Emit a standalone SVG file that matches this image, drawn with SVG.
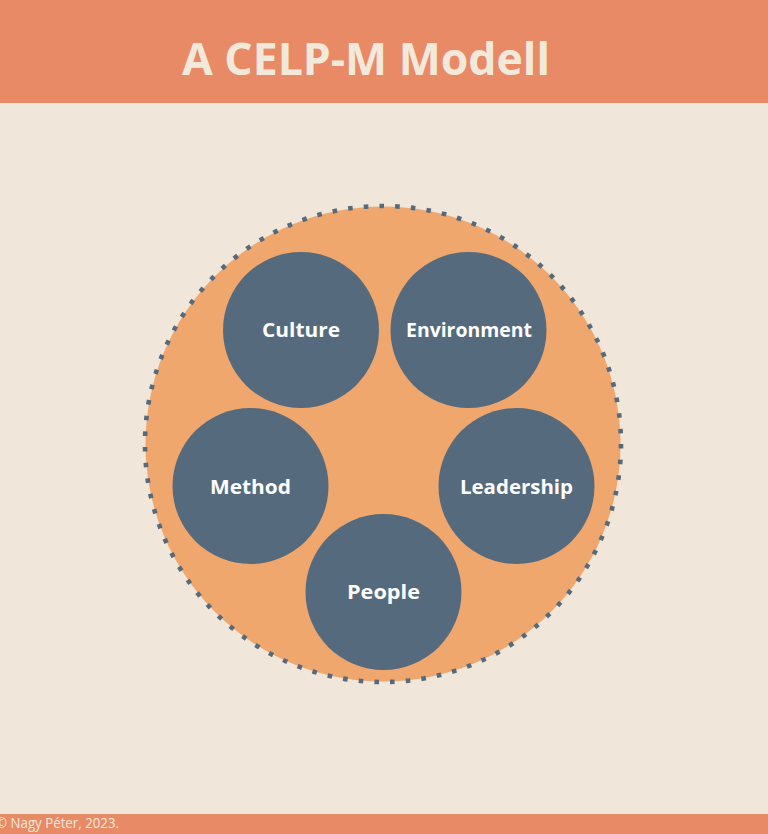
<svg xmlns="http://www.w3.org/2000/svg" width="768" height="834" viewBox="0 0 768 834">
<style>
.band{fill:#E98A67}
.node circle{fill:#566A7D}
.node text{font-family:"Open Sans","Liberation Sans",sans-serif;font-weight:700;font-size:19.5px;fill:#FFFFFF;text-anchor:middle}
.title{font-family:"Open Sans","Liberation Sans",sans-serif;font-weight:700;font-size:45px;fill:#F3E9DB}
.foot{font-family:"Open Sans","Liberation Sans",sans-serif;font-size:14px;fill:#F3E9DB}
</style>
<rect x="0" y="0" width="768" height="834" fill="#F0E6D9"/>
<rect class="band" x="0" y="0" width="768" height="103"/>
<text class="title" x="182" y="75" textLength="368" lengthAdjust="spacingAndGlyphs">A CELP-M Modell</text>
<rect class="band" x="0" y="814" width="768" height="20"/>
<text class="foot" x="-4" y="828" textLength="123" lengthAdjust="spacingAndGlyphs">© Nagy Péter, 2023.</text>
<g id="outer">
<circle cx="383" cy="444" r="237.5" fill="#EFA76E"/>
<circle cx="383" cy="444" r="238" fill="none" stroke="#566A7D" stroke-width="4.6" stroke-dasharray="4.6 11.14"/>
</g>
<g id="culture" class="node"><circle cx="301" cy="330" r="78"/><text x="301" y="337.3" textLength="78" lengthAdjust="spacingAndGlyphs">Culture</text></g>
<g id="environment" class="node"><circle cx="468.5" cy="330" r="78"/><text x="469" y="337.3" textLength="126" lengthAdjust="spacingAndGlyphs">Environment</text></g>
<g id="method" class="node"><circle cx="250.5" cy="486" r="78"/><text x="250.5" y="493.5" textLength="81" lengthAdjust="spacingAndGlyphs">Method</text></g>
<g id="leadership" class="node"><circle cx="516.5" cy="486" r="78"/><text x="516.5" y="493.5" textLength="113" lengthAdjust="spacingAndGlyphs">Leadership</text></g>
<g id="people" class="node"><circle cx="383.5" cy="592" r="78"/><text x="383.5" y="599" textLength="73" lengthAdjust="spacingAndGlyphs">People</text></g>
<g id="connectors"></g>
</svg>
